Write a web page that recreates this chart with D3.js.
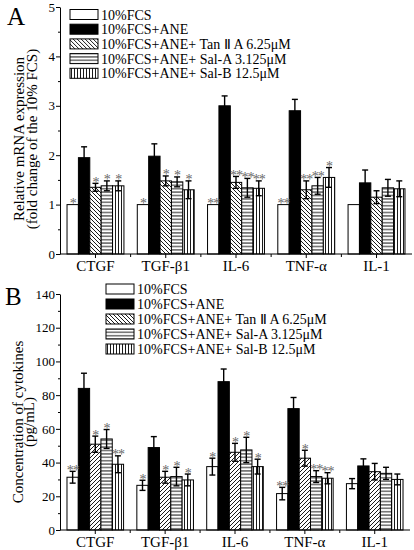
<!DOCTYPE html>
<html>
<head>
<meta charset="utf-8">
<script src="https://cdn.jsdelivr.net/npm/d3@7"></script>
<style>
  body { margin: 0; background: #fff; }
  svg { display: block; font-family: "Liberation Serif", "Times New Roman", serif; }
</style>
</head>
<body>
<script>
"use strict";

// categories and legend labels
const genes = ["CTGF", "TGF-β1", "IL-6", "TNF-α", "IL-1"];
const seriesNames = [
  "10%FCS",
  "10%FCS+ANE",
  "10%FCS+ANE+ Tan Ⅱ A 6.25μM",
  "10%FCS+ANE+ Sal-A 3.125μM",
  "10%FCS+ANE+ Sal-B 12.5μM",
];

// panel A: relative mRNA expression (mean, error)
const fcsA = [1, 1, 1, 1, 1];
const fcsAErr = [0, 0, 0, 0, 0];
const aneA = [1.95, 1.98, 3.0, 2.9, 1.44];
const aneAErr = [0.22, 0.25, 0.2, 0.23, 0.26];
const tanA = [1.35, 1.48, 1.45, 1.3, 1.15];
const tanAErr = [0.08, 0.1, 0.12, 0.18, 0.13];
const salAA = [1.38, 1.46, 1.34, 1.38, 1.34];
const salAAErr = [0.1, 0.1, 0.19, 0.17, 0.17];
const salBA = [1.38, 1.3, 1.33, 1.55, 1.32];
const salBAErr = [0.1, 0.18, 0.15, 0.2, 0.16];
const starsA = [
  ["*", "*", "**", "**", ""],
  ["", "", "", "", ""],
  ["*", "*", "**", "**", ""],
  ["*", "*", "**", "**", ""],
  ["*", "*", "**", "*", ""],
];
const ticksA = [0, 1, 2, 3, 4, 5];

// panel B: cytokine concentration pg/mL (mean, error)
const fcsB = [31.3, 26.5, 37.6, 21.6, 27.5];
const fcsBErr = [3.5, 3, 5, 3.7, 3];
const aneB = [84, 48.9, 88, 72, 38];
const aneBErr = [9, 6.5, 7.5, 6.6, 4.2];
const tanB = [50.9, 31.3, 46.1, 42.6, 34.6];
const tanBErr = [4.8, 3.5, 5.3, 4.7, 4.9];
const salAB = [54, 31.7, 47.5, 31.7, 33.6];
const salABErr = [5.6, 5.5, 7.5, 3.5, 3.6];
const salBB = [39, 29.7, 37.6, 30.7, 30];
const salBBErr = [5, 3.5, 4.4, 3.3, 3.2];
const starsB = [
  ["**", "*", "*", "**", ""],
  ["", "", "", "", ""],
  ["*", "*", "*", "*", ""],
  ["*", "*", "*", "**", ""],
  ["**", "*", "*", "**", ""],
];
const ticksB = [0, 20, 40, 60, 80, 100, 120, 140];

const svg = d3.select("body").append("svg").attr("width", 414).attr("height", 550);

// fill patterns
const defs = svg.append("defs");
function hatch(id, size, lines) {
  const p = defs.append("pattern").attr("id", id)
    .attr("patternUnits", "userSpaceOnUse")
    .attr("width", size).attr("height", size);
  p.append("rect").attr("width", size).attr("height", size).attr("fill", "#fff");
  lines.forEach(l => p.append("line")
    .attr("x1", l[0]).attr("y1", l[1]).attr("x2", l[2]).attr("y2", l[3])
    .attr("stroke", "#000").attr("stroke-width", 0.9));
}
hatch("back", 4, [[0, 0, 4, 4], [-1, 3, 1, 5], [3, -1, 5, 1]]);
hatch("fwd", 4, [[0, 4, 4, 0], [-1, 1, 1, -1], [3, 5, 5, 3]]);
hatch("horiz", 3.4, [[0, 1.7, 3.4, 1.7]]);
hatch("vert", 3, [[1.5, 0, 1.5, 3]]);

const fillsA = ["#fff", "#000", "url(#back)", "url(#horiz)", "url(#vert)"];
const fillsB = ["#fff", "#000", "url(#fwd)", "url(#horiz)", "url(#vert)"];
const legendFills = ["#fff", "#000", "url(#back)", "url(#horiz)", "url(#vert)"];

function panel(opts) {
  const x = d3.scaleBand().domain(genes).range([60, opts.right])
    .paddingInner(0.19).paddingOuter(0.1);
  const xs = d3.scaleBand().domain(d3.range(5)).range([0, x.bandwidth()]);
  const y = d3.scaleLinear().domain(opts.domain).range([opts.bottom, opts.top]);
  const g = svg.append("g");

  const rows = [];
  opts.means.forEach((m, s) => m.forEach((v, i) => rows.push({
    s, gene: genes[i], v, e: opts.errs[s][i], star: opts.stars[s][i],
  })));

  // bars
  g.append("g").selectAll("rect").data(rows).join("rect")
    .attr("x", d => x(d.gene) + xs(d.s))
    .attr("y", d => y(d.v))
    .attr("width", xs.bandwidth())
    .attr("height", d => y(0) - y(d.v))
    .attr("fill", d => opts.fills[d.s])
    .attr("stroke", "#000").attr("stroke-width", 1);

  // error bars
  const eb = g.append("g").attr("stroke", "#000").attr("stroke-width", 1.4)
    .selectAll("g").data(rows.filter(d => d.e > 0)).join("g")
    .attr("transform", d => `translate(${x(d.gene) + xs(d.s) + xs.bandwidth() / 2},0)`);
  eb.append("line").attr("y1", d => y(d.v - d.e)).attr("y2", d => y(d.v + d.e));
  eb.append("line").attr("x1", -3).attr("x2", 3).attr("y1", d => y(d.v + d.e)).attr("y2", d => y(d.v + d.e));
  eb.append("line").attr("x1", -3).attr("x2", 3).attr("y1", d => y(d.v - d.e)).attr("y2", d => y(d.v - d.e));

  // significance stars
  g.append("g").attr("fill", "#666").attr("font-size", 14).attr("letter-spacing", -1)
    .attr("text-anchor", "middle")
    .selectAll("text").data(rows.filter(d => d.star)).join("text")
    .attr("x", d => x(d.gene) + xs(d.s) + xs.bandwidth() / 2)
    .attr("y", d => y(d.v + d.e) + 3.5)
    .text(d => d.star);

  // x axis
  const ax = g.append("g").attr("transform", `translate(0,${opts.bottom})`)
    .call(d3.axisBottom(x).tickSize(4).tickSizeOuter(0).tickPadding(2))
    .attr("font-family", null).attr("font-size", 15);
  ax.select(".domain").attr("d", `M60,0H${opts.right}`);
  const mids = genes.slice(1).map(gn => x(gn) - x.step() * x.paddingInner() / 2);
  ax.selectAll(".minor").data(mids).join("line").attr("class", "minor")
    .attr("x1", d => d).attr("x2", d => d).attr("y1", 0).attr("y2", 3).attr("stroke", "#000");

  // y axis
  g.append("g").attr("transform", "translate(60,0)")
    .call(d3.axisLeft(y).tickValues(opts.ticks).tickFormat(d3.format("d"))
      .tickSize(4).tickSizeOuter(0).tickPadding(1))
    .attr("font-family", null).attr("font-size", 13);
  const minors = opts.ticks.slice(1).map((t, i) => (t + opts.ticks[i]) / 2);
  g.append("g").attr("transform", "translate(60,0)")
    .call(d3.axisLeft(y).tickValues(minors).tickSize(2).tickSizeOuter(0).tickFormat(""))
    .select(".domain").remove();

  // y title
  const tt = g.append("text").attr("text-anchor", "middle").attr("font-size", 15)
    .attr("transform", `translate(${opts.titleX},${opts.titleY}) rotate(-90)`);
  opts.title.forEach((t, i) => tt.append("tspan").attr("x", 0).attr("dy", i ? opts.titleGap : 0).text(t));

  // panel letter
  g.append("text").attr("x", opts.letterX).attr("y", opts.letterY)
    .attr("font-size", 25).text(opts.letter);

  // legend
  const lg = g.append("g").attr("font-size", 14)
    .selectAll("g").data(seriesNames).join("g")
    .attr("transform", (d, i) => `translate(${opts.legX},${opts.legY + i * opts.legStep})`);
  lg.append("rect").attr("x", 0).attr("y", -5).attr("width", 28).attr("height", 10)
    .attr("fill", (d, i) => legendFills[i]).attr("stroke", "#000");
  lg.append("text").attr("x", 31).attr("y", 5).text(d => d);
}

panel({
  means: [fcsA, aneA, tanA, salAA, salBA],
  errs: [fcsAErr, aneAErr, tanAErr, salAAErr, salBAErr],
  stars: starsA, fills: fillsA, ticks: ticksA,
  domain: [0, 5], top: 7, bottom: 254, right: 412,
  title: ["Relative mRNA expression", "(fold change of the 10% FCS)"],
  titleX: 24, titleY: 139, titleGap: 13,
  letter: "A", letterX: 7, letterY: 25,
  legX: 70, legY: 14.5, legStep: 14.7,
});

panel({
  means: [fcsB, aneB, tanB, salAB, salBB],
  errs: [fcsBErr, aneBErr, tanBErr, salABErr, salBBErr],
  stars: starsB, fills: fillsB, ticks: ticksB,
  domain: [0, 140], top: 294, bottom: 530, right: 410,
  title: ["Concentration of cytokines", "(pg/mL)"],
  titleX: 23, titleY: 422, titleGap: 11,
  letter: "B", letterX: 5, letterY: 305,
  legX: 106, legY: 289, legStep: 15,
});
</script>
</body>
</html>
